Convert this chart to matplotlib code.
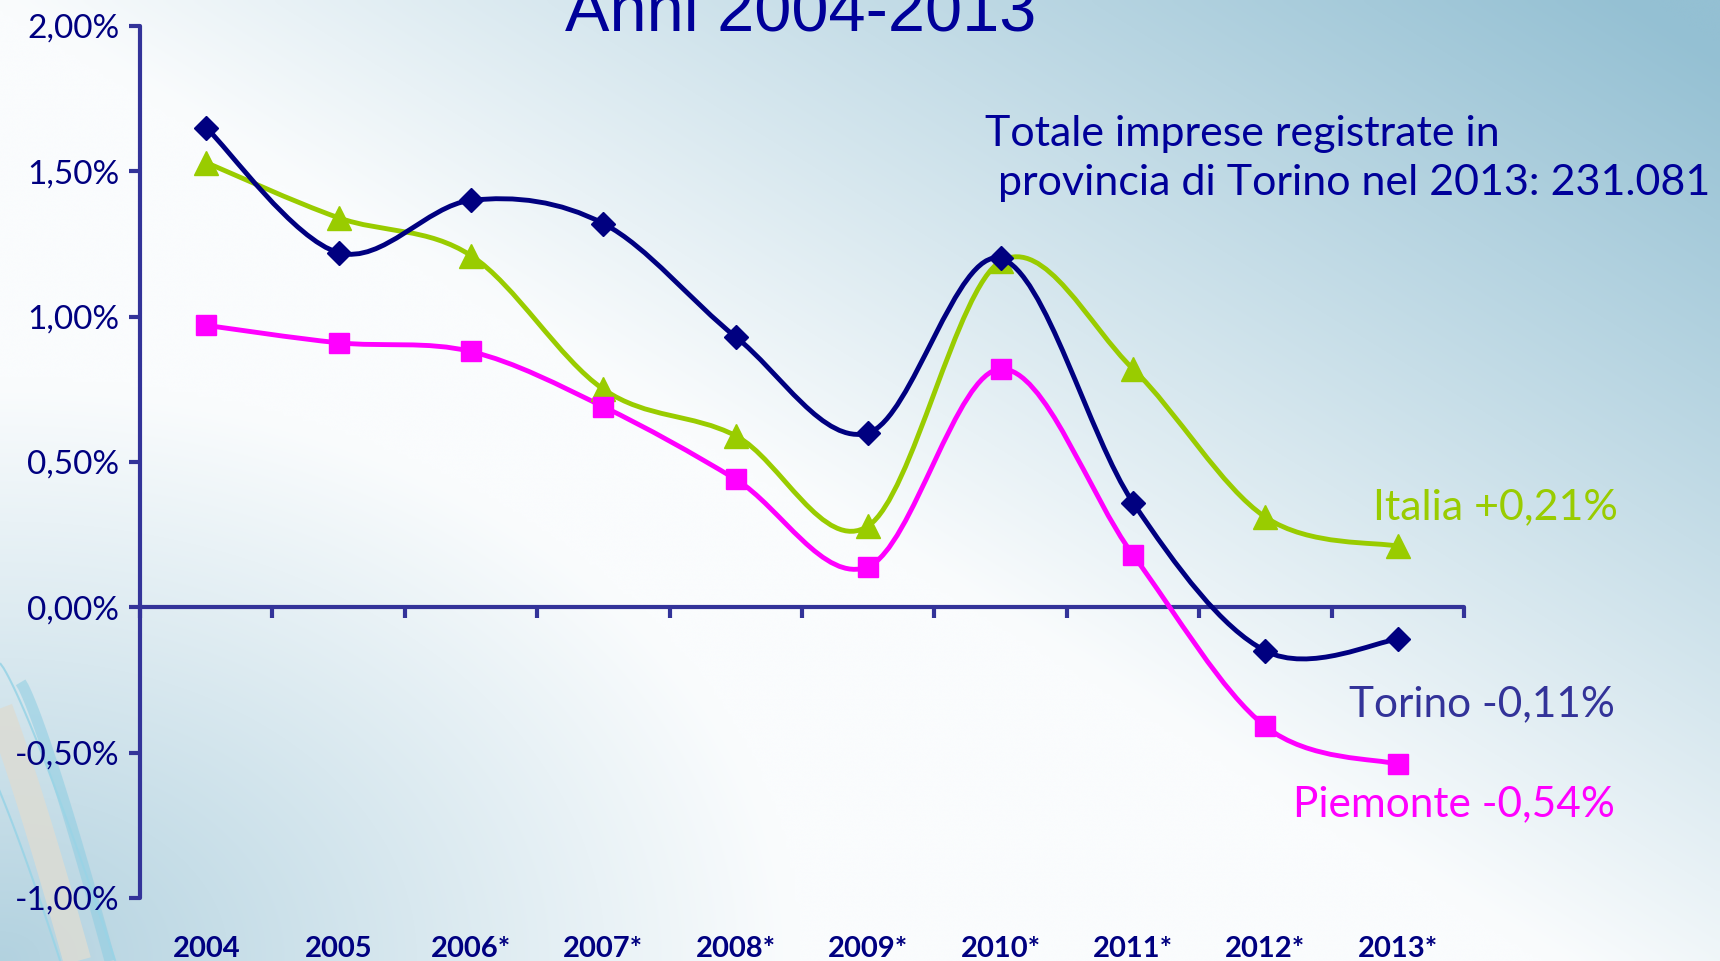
import matplotlib
matplotlib.use('Agg')
import matplotlib.pyplot as plt
import matplotlib.transforms as mtransforms
from matplotlib.path import Path
from matplotlib.patches import PathPatch
import numpy as np

years = ['2004', '2005', '2006*', '2007*', '2008*', '2009*', '2010*', '2011*', '2012*', '2013*']

torino = [1.65, 1.22, 1.40, 1.32, 0.93, 0.60, 1.20, 0.36, -0.15, -0.11]
italia = [1.53, 1.34, 1.21, 0.75, 0.59, 0.28, 1.19, 0.82, 0.31, 0.21]
piemonte = [0.97, 0.91, 0.88, 0.69, 0.44, 0.14, 0.82, 0.18, -0.41, -0.54]

y_ticks = [-1.0, -0.5, 0.0, 0.5, 1.0, 1.5, 2.0]

NAVY = '#000080'
AXIS = '#333399'
GREEN = '#99CC00'
MAGENTA = '#FF00FF'
TEXT = '#000099'

plt.rcParams['font.family'] = ['Lato', 'DejaVu Sans']


def smooth_path(xs, ys, t=1 / 6):
    # Excel-like smoothed line: cubic bezier through every point
    pts = np.column_stack([xs, ys]).astype(float)
    n = len(pts)
    verts = [pts[0]]
    codes = [Path.MOVETO]
    for i in range(n - 1):
        p0 = pts[max(i - 1, 0)]
        p1 = pts[i]
        p2 = pts[i + 1]
        p3 = pts[min(i + 2, n - 1)]
        verts += [p1 + (p2 - p0) * t, p2 - (p3 - p1) * t, p2]
        codes += [Path.CURVE4] * 3
    return Path(verts, codes)


fig = plt.figure(figsize=(17.2, 9.61), dpi=100)

# background gradient
bg = fig.add_axes([0, 0, 1, 1], zorder=-10)
bg.set_axis_off()
H, W = 200, 360
fy, fx = np.mgrid[1:0:H * 1j, 0:1:W * 1j]
w1 = np.clip((fx * 1.05 + fy * 0.95 - 0.95) / 1.0, 0, 1) ** 1.0
w2 = np.clip(1 - np.hypot(fx * 1.3, fy) / 0.6, 0, 1) * 0.7
w = np.clip(w1 + w2, 0, 1)
white = np.array([250, 252, 253]) / 255
blue = np.array([148, 192, 211]) / 255
img = white[None, None, :] * (1 - w[..., None]) + blue[None, None, :] * w[..., None]
bg.imshow(img, extent=[0, 1, 0, 1], aspect='auto', interpolation='bicubic')
bg.set_xlim(0, 1)
bg.set_ylim(0, 1)

# decorative swooshes bottom-left
tt = np.linspace(0, 1, 60)
for x0, x1, y0, c, lw, a in [(-0.010, 0.045, 0.30, '#dcdcd4', 20, 0.85),
                             (0.012, 0.064, 0.29, '#8ccde2', 8, 0.55),
                             (0.000, 0.067, 0.31, '#9ad4e6', 1.5, 0.9),
                             (-0.012, 0.035, 0.22, '#9ad4e6', 1.5, 0.9)]:
    xs = x0 + (x1 - x0) * tt ** 0.85
    ys = y0 * (1 - tt)
    bg.plot(xs, ys, color=c, lw=lw, alpha=a, solid_capstyle='butt')

ax = fig.add_axes([0.0814, 0.0656, 0.7698, 0.9074])
ax.patch.set_alpha(0)
x = np.arange(len(years))

for vals, col, mk, ms, z in [(italia, GREEN, '^', 17, 3),
                              (piemonte, MAGENTA, 's', 15, 3),
                              (torino, NAVY, 'D', 12, 4)]:
    ax.add_patch(PathPatch(smooth_path(x, vals), fill=False, edgecolor=col, lw=3.5,
                           capstyle='round', joinstyle='round', zorder=z))
    ax.plot(x, vals, ls='none', marker=mk, ms=ms, color=col, mec=col, zorder=z + 0.5)

ax.set_xlim(-0.5, len(years) - 0.5)
ax.set_ylim(-1.0, 2.0)

for s in ['top', 'right']:
    ax.spines[s].set_visible(False)
ax.spines['bottom'].set_position(('data', 0))
for s in ['left', 'bottom']:
    ax.spines[s].set_color(AXIS)
    ax.spines[s].set_linewidth(3)
    ax.spines[s].set_capstyle('round')

ax.set_yticks(y_ticks)
ax.set_yticklabels([('%.2f%%' % v).replace('.', ',') for v in y_ticks])
ax.tick_params(axis='y', direction='out', length=8, width=3, color=AXIS,
               labelcolor=NAVY, labelsize=24, pad=7)
ax.set_xticks(np.arange(len(years) + 1) - 0.5)
ax.set_xticklabels([])
ax.tick_params(axis='x', direction='out', length=8, width=3, color=AXIS)

trans = mtransforms.blended_transform_factory(ax.transData, ax.transAxes)
for i, lab in enumerate(years):
    ax.text(i, -0.059, lab, transform=trans, ha='center', va='center',
            fontsize=21, fontweight='bold', color=NAVY)

fig.text(0.4657, 0.9680, 'Anni 2004-2013', ha='center', va='baseline',
         fontsize=48, color=TEXT, family=['Liberation Sans', 'DejaVu Sans'])
fig.text(0.5727, 0.848, 'Totale imprese registrate in', ha='left', va='baseline',
         fontsize=31, color=TEXT)
fig.text(0.580, 0.797, 'provincia di Torino nel 2013: 231.081', ha='left', va='baseline',
         fontsize=31, color=TEXT)

fig.text(0.9407, 0.4724, 'Italia +0,21%', ha='right', va='center', fontsize=31, color=GREEN)
fig.text(0.939, 0.2674, 'Torino -0,11%', ha='right', va='center', fontsize=30.5, color=AXIS)
fig.text(0.939, 0.1634, 'Piemonte -0,54%', ha='right', va='center', fontsize=30.5, color=MAGENTA)

fig.savefig('out.png', dpi=100)
